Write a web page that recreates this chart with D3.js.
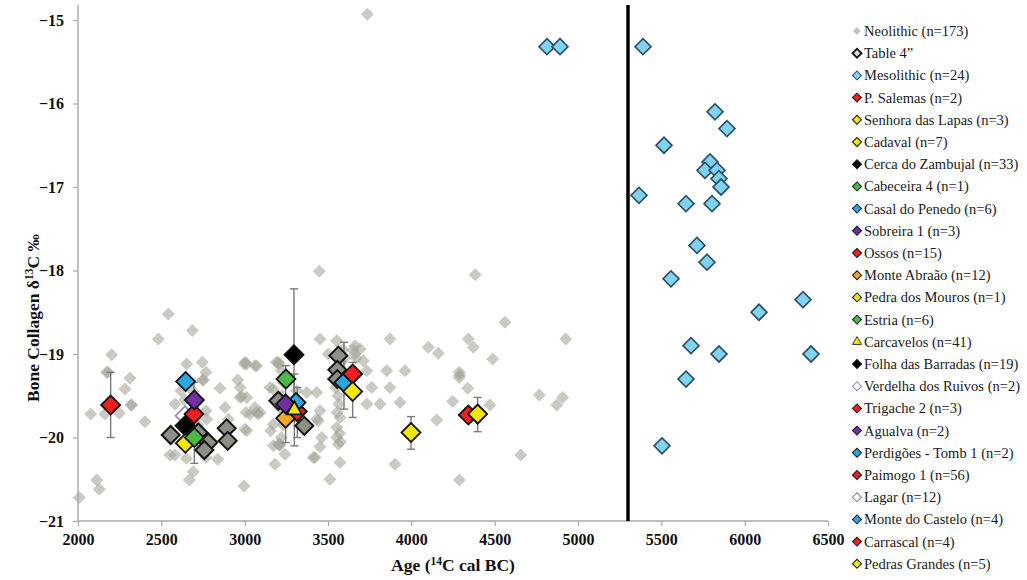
<!DOCTYPE html>
<html>
<head>
<meta charset="utf-8">
<script src="https://cdn.jsdelivr.net/npm/d3@7"></script>
<style>
  body { margin: 0; background: #fff; }
  svg { display: block; }
  text { font-family: "Liberation Serif", "Times New Roman", serif; }
</style>
</head>
<body>
<svg id="chart" width="1027" height="580"></svg>
<script>
// Data (age in 14C cal BC, bone collagen d13C in per mil)
var xTicks = [2000, 2500, 3000, 3500, 4000, 4500, 5000, 5500, 6000, 6500];
var yTicks = [-21, -20, -19, -18, -17, -16, -15];
var separatorAge = 5300;

var neolithic = [
  [2542, -18.52], [2482, -18.82], [2686, -18.72], [2202, -19.01], [2172, -19.22], [2180, -19.22],
  [2312, -19.29], [2282, -19.42], [2318, -19.61], [2322, -19.61], [2076, -19.72], [2162, -19.72],
  [2248, -19.71], [2402, -19.81], [2652, -19.12], [2746, -19.10], [2768, -19.22], [2748, -19.31],
  [2752, -19.31], [2618, -19.44], [2582, -19.60], [2852, -19.41], [2958, -19.31], [2998, -19.12],
  [2982, -19.51], [2882, -19.64], [3008, -19.70], [2772, -19.78], [2768, -19.68], [2552, -20.21],
  [2582, -20.21], [2768, -20.24], [2838, -20.26], [2692, -20.41], [2668, -20.51], [2112, -20.51],
  [2128, -20.62], [2008, -20.72], [2996, -20.58], [2902, -19.78], [3012, -19.92], [2690, -19.45],
  [2710, -19.60], [2640, -19.55], [2720, -19.85], [2650, -20.25], [2972, -19.40], [3012, -19.52],
  [3062, -19.64], [3072, -19.70], [3012, -19.12], [3072, -19.14], [3190, -19.10], [3202, -19.10],
  [3206, -19.12], [3152, -19.40], [3092, -19.70], [3156, -19.92], [3172, -20.10], [3212, -20.08],
  [3242, -20.20], [3182, -20.32], [3432, -19.78], [3412, -20.24], [3372, -19.46], [3432, -19.46],
  [3220, -19.20], [3225, -19.50], [3215, -19.65], [3230, -19.85], [3220, -20.00], [3210, -20.10],
  [3235, -19.35], [3452, -18.82], [3552, -18.84], [3662, -18.90], [3692, -18.94], [3872, -18.82],
  [3002, -19.10], [3062, -19.14], [3502, -19.00], [3712, -19.08], [3732, -19.20], [3852, -19.20],
  [3962, -19.20], [3172, -19.42], [2972, -19.52], [3762, -19.40], [3872, -19.40], [3732, -19.60],
  [3812, -19.60], [3932, -19.58], [3032, -19.72], [3082, -19.72], [3002, -19.90], [3452, -19.68],
  [3442, -19.80], [3462, -20.00], [3552, -19.88], [3552, -20.00], [3562, -20.08], [3572, -19.76],
  [3172, -19.84], [3202, -20.08], [3422, -20.24], [3572, -20.30], [3512, -20.50], [3902, -20.32],
  [3312, -19.44], [3560, -19.50], [3565, -19.60], [3555, -19.70], [3570, -19.95], [3575, -20.05],
  [3545, -19.40], [3580, -19.10], [3590, -18.95], [3600, -19.05], [3650, -18.95], [3660, -19.00],
  [3670, -19.05], [3736, -14.93], [3448, -18.01], [4384, -18.05], [4562, -18.62], [4926, -18.82],
  [4342, -18.82], [4372, -18.92], [4102, -18.92], [4162, -18.99], [4488, -19.06], [4288, -19.22],
  [4290, -19.25], [4288, -19.28], [4338, -19.41], [4248, -19.57], [4472, -19.61], [4768, -19.49],
  [4908, -19.52], [4872, -19.61], [4152, -19.79], [4656, -20.21], [4288, -20.51], [3452, -20.11]
];

var mesolithic = [
  [4814, -15.32], [4892, -15.32], [5390, -15.32], [5822, -16.10], [5894, -16.30], [5516, -16.50],
  [5792, -16.70], [5762, -16.80], [5834, -16.80], [5846, -16.90], [5858, -17.00], [5366, -17.10],
  [5648, -17.20], [5804, -17.20], [5714, -17.70], [5774, -17.90], [5558, -18.10], [6350, -18.35],
  [6086, -18.50], [5678, -18.90], [5846, -19.00], [6398, -19.00], [5648, -19.30], [5504, -20.10]
];

var table4 = [
  [2556, -19.97], [2722, -19.94], [2782, -20.06], [2758, -20.15], [2892, -19.89], [2898, -20.04],
  [3202, -19.56], [3358, -19.86], [3562, -19.02], [3556, -19.19], [3556, -19.30]
];

// site means with error bar range (lo, hi); null = no bar
var siteMeans = [
  { site: "P. Salemas", age: 2196, d13C: -19.61, lo: -20.00, hi: -19.22 },
  { site: "Perdigões - Tomb 1", age: 2646, d13C: -19.33, lo: null, hi: null },
  { site: "Verdelha dos Ruivos", age: 2642, d13C: -19.74, lo: null, hi: null },
  { site: "Folha das Barradas", age: 2642, d13C: -19.86, lo: null, hi: null },
  { site: "Trigache 2", age: 2696, d13C: -19.72, lo: -20.10, hi: -19.34 },
  { site: "Agualva", age: 2698, d13C: -19.55, lo: null, hi: null },
  { site: "Pedra dos Mouros", age: 2644, d13C: -20.07, lo: null, hi: null },
  { site: "Estria", age: 2698, d13C: -20.00, lo: -20.31, hi: -19.70 },
  { site: "Cerca do Zambujal", age: 3296, d13C: -19.01, lo: -19.80, hi: -18.22 },
  { site: "Cabeceira 4", age: 3248, d13C: -19.30, lo: null, hi: null },
  { site: "Monte Abraão", age: 3246, d13C: -19.77, lo: null, hi: null },
  { site: "Ossos", age: 3316, d13C: -19.69, lo: -20.00, hi: -19.40 },
  { site: "Casal do Penedo", age: 3308, d13C: -19.58, lo: null, hi: null },
  { site: "Sobreira 1", age: 3246, d13C: -19.60, lo: -20.06, hi: -19.14 },
  { site: "Carcavelos", age: 3298, d13C: -19.67, lo: -20.10, hi: -19.24 },
  { site: "Monte do Castelo", age: 3596, d13C: -19.34, lo: -19.66, hi: -18.86 },
  { site: "Paimogo 1", age: 3648, d13C: -19.24, lo: null, hi: null },
  { site: "Cadaval", age: 3648, d13C: -19.45, lo: -19.76, hi: -19.10 },
  { site: "Senhora das Lapas", age: 3998, d13C: -19.94, lo: -20.14, hi: -19.75 },
  { site: "Carrascal", age: 4342, d13C: -19.73, lo: -19.81, hi: -19.65 },
  { site: "Pedras Grandes", age: 4398, d13C: -19.72, lo: -19.93, hi: -19.52 }
];

var legendLabels = [
  "Neolithic (n=173)", "Table 4\u201d", "Mesolithic (n=24)", "P. Salemas (n=2)",
  "Senhora das Lapas (n=3)", "Cadaval (n=7)", "Cerca do Zambujal (n=33)", "Cabeceira 4 (n=1)",
  "Casal do Penedo (n=6)", "Sobreira 1 (n=3)", "Ossos (n=15)", "Monte Abraão (n=12)",
  "Pedra dos Mouros (n=1)", "Estria (n=6)", "Carcavelos (n=41)", "Folha das Barradas (n=19)",
  "Verdelha dos Ruivos (n=2)", "Trigache 2 (n=3)", "Agualva (n=2)", "Perdigões - Tomb 1 (n=2)",
  "Paimogo 1 (n=56)", "Lagar (n=12)", "Monte do Castelo (n=4)", "Carrascal (n=4)",
  "Pedras Grandes (n=5)"
];

// Styles
var RED = "#ee2020", YELLOW = "#f5e800", BLUE = "#2aa8e0", PURPLE = "#7030a0",
    GREEN = "#4cb848", ORANGE = "#f5a623";
var siteStyle = {
  "Neolithic": { fill: "#c4c4bb", stroke: "none" },
  "Table 4": { fill: "#d8d8d0", stroke: "#111" },
  "Mesolithic": { fill: "#80d2f2", stroke: "#2b4d5e" },
  "P. Salemas": { fill: RED, stroke: "#111" },
  "Senhora das Lapas": { fill: YELLOW, stroke: "#111" },
  "Cadaval": { fill: YELLOW, stroke: "#111" },
  "Cerca do Zambujal": { fill: "#000", stroke: "#111" },
  "Cabeceira 4": { fill: GREEN, stroke: "#111" },
  "Casal do Penedo": { fill: BLUE, stroke: "#111" },
  "Sobreira 1": { fill: PURPLE, stroke: "#111" },
  "Ossos": { fill: RED, stroke: "#111" },
  "Monte Abraão": { fill: ORANGE, stroke: "#111" },
  "Pedra dos Mouros": { fill: YELLOW, stroke: "#111" },
  "Estria": { fill: GREEN, stroke: "#111" },
  "Carcavelos": { fill: YELLOW, stroke: "#111", shape: "triangle" },
  "Folha das Barradas": { fill: "#000", stroke: "#111" },
  "Verdelha dos Ruivos": { fill: "#fff", stroke: "#9a88c8" },
  "Trigache 2": { fill: RED, stroke: "#111" },
  "Agualva": { fill: PURPLE, stroke: "#111" },
  "Perdigões - Tomb 1": { fill: BLUE, stroke: "#111" },
  "Paimogo 1": { fill: RED, stroke: "#111" },
  "Lagar": { fill: "#fff", stroke: "#888" },
  "Monte do Castelo": { fill: BLUE, stroke: "#111" },
  "Carrascal": { fill: RED, stroke: "#111" },
  "Pedras Grandes": { fill: YELLOW, stroke: "#111" }
};

var svg = d3.select("#chart");
var x = d3.scaleLinear().domain([2000, 6500]).range([78, 828]);
var y = d3.scaleLinear().domain([-21, -15]).range([521, 20]);
var plotTop = 5;

// diamond = square rotated 45deg, h is half diagonal
function diamondPath(h) {
  return d3.symbol().type(d3.symbolSquare).size(2 * h * h)();
}
function trianglePath(side) {
  return d3.symbol().type(d3.symbolTriangle).size(Math.sqrt(3) / 4 * side * side)();
}

// Axes
var xAxis = svg.append("g")
  .attr("transform", "translate(0," + y(-21) + ")")
  .call(d3.axisBottom(x).tickValues(xTicks).tickSize(5).tickPadding(8).tickFormat(d3.format("d")));
var yAxis = svg.append("g")
  .attr("transform", "translate(" + x(2000) + ",0)")
  .call(d3.axisLeft(y).tickValues(yTicks).tickSize(5).tickPadding(9).tickFormat(d3.format("d")));
[xAxis, yAxis].forEach(function (g) {
  g.select(".domain").remove();
  g.selectAll(".tick line").attr("stroke", "#a8a8a8").attr("stroke-width", 1.2);
  g.selectAll(".tick text")
    .attr("fill", "#111")
    .attr("font-size", "16px")
    .attr("font-weight", "bold")
    .style("font-family", "'Liberation Serif', serif");
});
svg.append("line")
  .attr("x1", x(2000)).attr("x2", x(2000))
  .attr("y1", plotTop).attr("y2", y(-21))
  .attr("stroke", "#a8a8a8").attr("stroke-width", 1.4);
svg.append("line")
  .attr("x1", x(2000)).attr("x2", x(6500))
  .attr("y1", y(-21)).attr("y2", y(-21))
  .attr("stroke", "#a8a8a8").attr("stroke-width", 1.4);

// Neolithic cloud
svg.append("g").selectAll("path")
  .data(neolithic)
  .enter()
  .append("path")
  .attr("d", diamondPath(6.5))
  .attr("transform", function (d) { return "translate(" + x(d[0]) + "," + y(d[1]) + ") rotate(45)"; })
  .attr("fill", "#a4a497")
  .attr("fill-opacity", 0.58);

// Mesolithic
svg.append("g").selectAll("path")
  .data(mesolithic)
  .enter()
  .append("path")
  .attr("d", diamondPath(8))
  .attr("transform", function (d) { return "translate(" + x(d[0]) + "," + y(d[1]) + ") rotate(45)"; })
  .attr("fill", siteStyle["Mesolithic"].fill)
  .attr("stroke", siteStyle["Mesolithic"].stroke)
  .attr("stroke-width", 1.6);

// Neolithic / Mesolithic divide
svg.append("line")
  .attr("x1", x(separatorAge)).attr("x2", x(separatorAge))
  .attr("y1", plotTop).attr("y2", y(-21))
  .attr("stroke", "#000").attr("stroke-width", 3.5);

// Error bars
var bars = svg.append("g").attr("stroke", "#7a7a7a").attr("stroke-width", 1.4);
siteMeans.filter(function (d) { return d.lo !== null; }).forEach(function (d) {
  var cx = x(d.age);
  bars.append("line").attr("x1", cx).attr("x2", cx).attr("y1", y(d.hi)).attr("y2", y(d.lo));
  bars.append("line").attr("x1", cx - 4).attr("x2", cx + 4).attr("y1", y(d.hi)).attr("y2", y(d.hi));
  bars.append("line").attr("x1", cx - 4).attr("x2", cx + 4).attr("y1", y(d.lo)).attr("y2", y(d.lo));
});

// Table 4 values
svg.append("g").selectAll("path")
  .data(table4)
  .enter()
  .append("path")
  .attr("d", diamondPath(9))
  .attr("transform", function (d) { return "translate(" + x(d[0]) + "," + y(d[1]) + ") rotate(45)"; })
  .attr("fill", "#8e8e82")
  .attr("stroke", "#141414")
  .attr("stroke-width", 2);

// Site means
svg.append("g").selectAll("path")
  .data(siteMeans)
  .enter()
  .append("path")
  .attr("d", function (d) {
    return siteStyle[d.site].shape === "triangle" ? trianglePath(15) : diamondPath(9.5);
  })
  .attr("transform", function (d) {
    var t = "translate(" + x(d.age) + "," + y(d.d13C) + ")";
    return siteStyle[d.site].shape === "triangle" ? t : t + " rotate(45)";
  })
  .attr("fill", function (d) { return siteStyle[d.site].fill; })
  .attr("stroke", function (d) { return siteStyle[d.site].stroke; })
  .attr("stroke-width", 1.8);

// Legend
var legend = svg.append("g").attr("transform", "translate(857,31)");
legendLabels.forEach(function (label, i) {
  var key = label.replace(/\s*\(n=\d+\)$/, "").replace("\u201d", "");
  var st = siteStyle[key];
  var row = legend.append("g").attr("transform", "translate(0," + (i * 22.2) + ")");
  if (st.shape === "triangle") {
    row.append("path").attr("d", trianglePath(9))
      .attr("fill", st.fill).attr("stroke", "#333").attr("stroke-width", 1);
  } else {
    row.append("path").attr("d", diamondPath(key === "Neolithic" ? 4 : 4.5))
      .attr("transform", "rotate(45)")
      .attr("fill", st.fill)
      .attr("stroke", st.stroke === "none" ? "none" : (key === "Table 4" ? "#111" : st.stroke))
      .attr("stroke-width", key === "Table 4" ? 1.8 : 1);
  }
  row.append("text")
    .attr("x", 7)
    .attr("y", 0)
    .attr("dy", "0.35em")
    .attr("font-size", "14.5px")
    .attr("fill", "#1a1a1a")
    .text(label);
});

// Axis titles
var xTitle = svg.append("text")
  .attr("x", (x(2000) + x(6500)) / 2)
  .attr("y", 571)
  .attr("text-anchor", "middle")
  .attr("font-size", "17.5px")
  .attr("font-weight", "bold")
  .attr("fill", "#111");
xTitle.append("tspan").text("Age (");
xTitle.append("tspan").attr("font-size", "11.5px").attr("dy", "-6").text("14");
xTitle.append("tspan").attr("dy", "6").text("C cal BC)");

var yTitle = svg.append("text")
  .attr("transform", "translate(39,318) rotate(-90)")
  .attr("text-anchor", "middle")
  .attr("font-size", "17.5px")
  .attr("font-weight", "bold")
  .attr("fill", "#111");
yTitle.append("tspan").text("Bone Collagen \u03b4");
yTitle.append("tspan").attr("font-size", "11.5px").attr("dy", "-6").text("13");
yTitle.append("tspan").attr("dy", "6").text("C \u2030");
</script>
</body>
</html>
